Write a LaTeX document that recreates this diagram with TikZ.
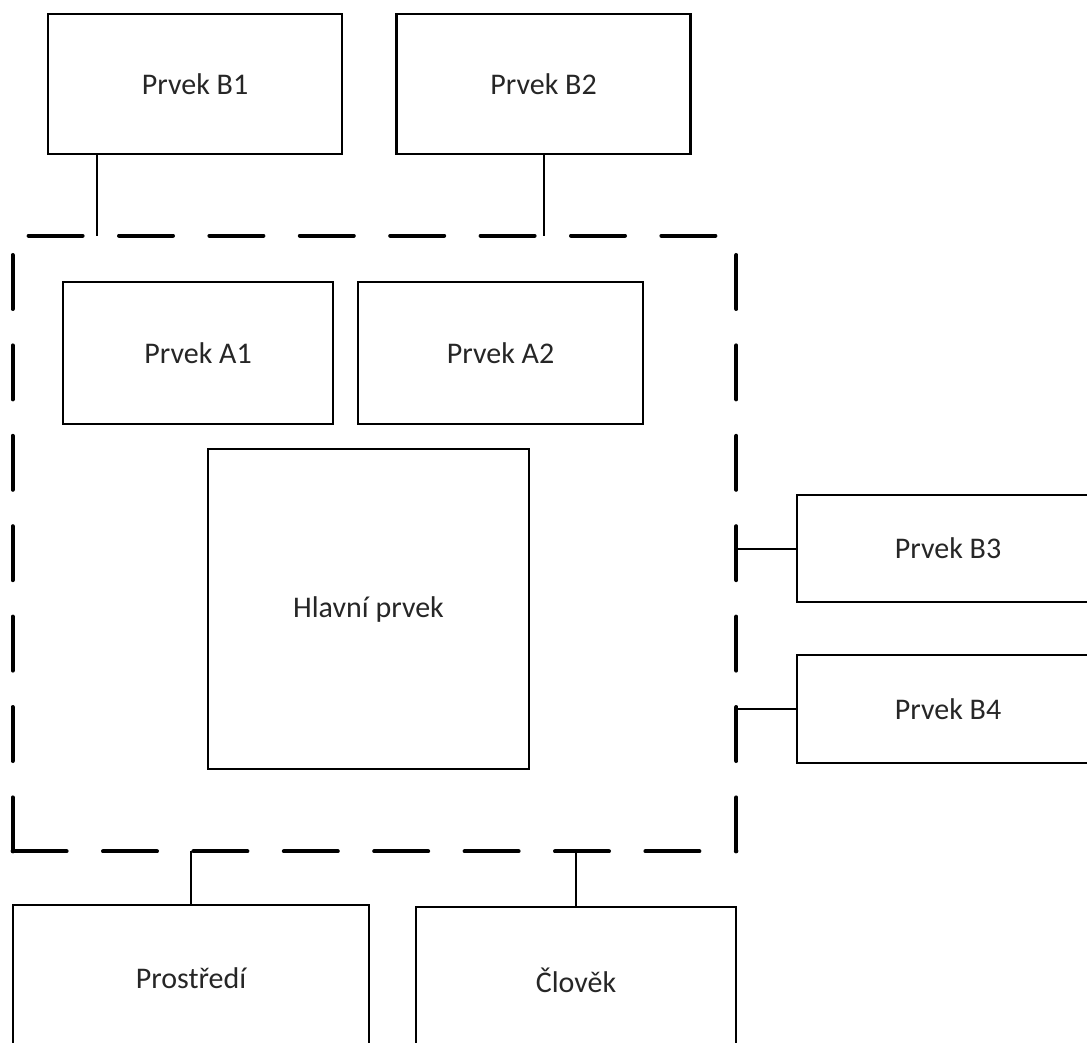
\documentclass[tikz,border=0pt]{standalone}
\usepackage{fontspec}
\setmainfont{Carlito}
\begin{document}
\begin{tikzpicture}[x=.5pt,y=-.5pt,
  prvek/.style={draw,line width=1.1pt,inner sep=0pt,outer sep=0pt,font=\fontsize{15}{18}\selectfont,text=black!85},
  spoj/.style={line width=1pt},
  hrana/.style={line width=2pt,line cap=round,dash pattern=on 27pt off 18.2pt}]
\useasboundingbox(0,0)rectangle(1087,1043);
\clip(0,0)rectangle(1087,1043);
% ohraniceni systemu
\node[minimum width=361.5pt,minimum height=307.5pt,inner sep=0pt](ramec)at(374.5,543.5){};
\draw[hrana](ramec.south west)--(ramec.south east);
\draw[hrana](ramec.south west)--(ramec.north west);
\draw[hrana](ramec.south east)--(ramec.north east);
\draw[hrana]([xshift=8pt]ramec.north west)--(ramec.north east);
% prvky
\node[prvek,minimum width=147pt,minimum height=70pt](b1)at(195,84){Prvek B1};
\node[prvek,minimum width=147pt,minimum height=70pt](b2)at(543.5,84){Prvek B2};
\node[prvek,minimum width=135pt,minimum height=71pt](a1)at(198,353){Prvek A1};
\node[prvek,minimum width=142.5pt,minimum height=71pt](a2)at(500.5,353){Prvek A2};
\node[prvek,minimum width=160.5pt,minimum height=160pt](hlavni)at(368.5,609){Hlavní prvek};
\node[prvek,minimum width=151pt,minimum height=53.5pt](b3)at(948,548.5){Prvek B3};
\node[prvek,minimum width=151pt,minimum height=54pt](b4)at(948,709){Prvek B4};
\node[prvek,minimum width=178pt,minimum height=73pt](prostredi)at(191,978){Prostředí};
\node[prvek,minimum width=160pt,minimum height=73pt](clovek)at(576,980){Člověk};
% vazby
\coordinate(k1)at(97,0);
\draw[spoj](k1|-b1.south)--(k1|-ramec.north);
\draw[spoj](b2.south)--(b2.south|-ramec.north);
\draw[spoj](b3.west)--(b3.west-|ramec.east);
\draw[spoj](b4.west)--(b4.west-|ramec.east);
\draw[spoj](prostredi.north)--(prostredi.north|-ramec.south);
\draw[spoj](clovek.north)--(clovek.north|-ramec.south);
\end{tikzpicture}
\end{document}
